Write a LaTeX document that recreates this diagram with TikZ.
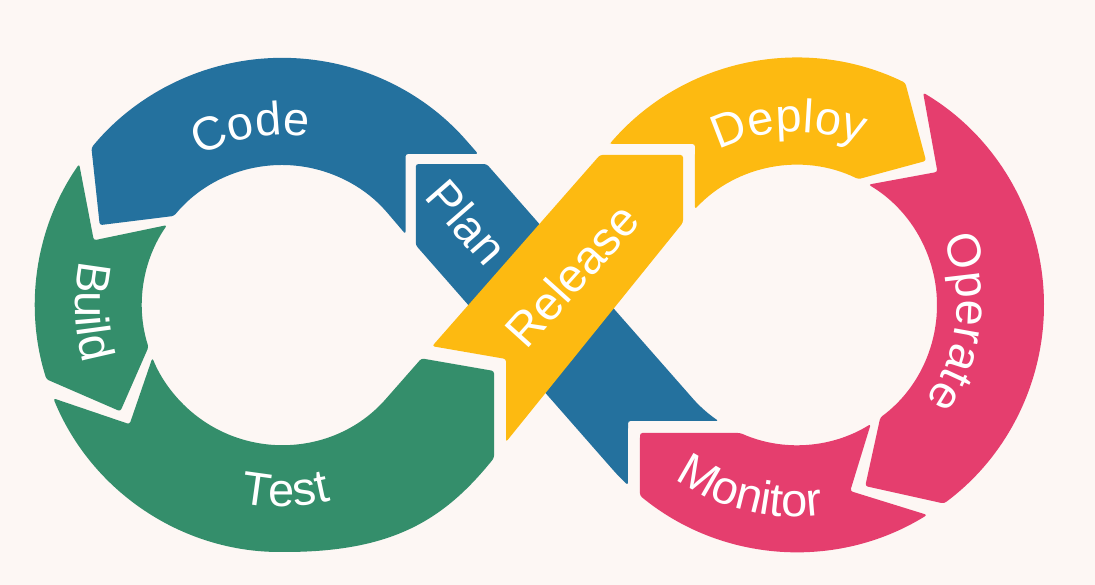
\documentclass[tikz,border=0pt]{standalone}
\usepackage{fontspec}
\setmainfont{Liberation Sans}
\usepackage{tikz}
\usetikzlibrary{calc, decorations.text}
\definecolor{bgcol}{RGB}{253,247,244}
\definecolor{devblue}{RGB}{36,113,158}
\definecolor{devgreen}{RGB}{52,142,107}
\definecolor{devyellow}{RGB}{253,186,17}
\definecolor{devpink}{RGB}{229,62,110}
\newcommand{\lblfont}{\fontsize{47}{47}\selectfont}

\begin{document}
\begin{tikzpicture}[x=1pt, y=1pt, rounded corners=2.5pt,
		lbl/.style = {text=white, font=\lblfont, inner sep=0pt},
		onarc/.style = {decorate, decoration={text along path, text align=center,
			text color=white, text={|\lblfont|#1}}}]
	\useasboundingbox (0,0) rectangle (1095,585);
	\fill[bgcol, sharp corners] (0,0) rectangle (1095,585);
	\coordinate (CL) at (282,280);
	\coordinate (CR) at (797,280);
	% blue
	\fill[devblue] (628,164) -- (718.6,164) arc[start angle=235.95, end angle=221.28, radius=140pt]
		-- (486.7,420.9) -- (415.8,420.9) -- (415.8,339.8) -- (611.4,116.9)
		arc[start angle=221.28, end angle=226.8, radius=247pt] -- cycle;
	\fill[devblue] (478.2,431) -- (467.6,443.1) arc[start angle=41.28, end angle=140.5, radius=247pt]
		-- ($(CL)+(156.34:199pt)$) -- ($(CL)+(140.5:140pt)$)
		arc[start angle=140.5, end angle=41.28, radius=140pt] -- (405.5,350.9) -- (405.5,431) -- cycle;
	% green
	\fill[devgreen] ($(CL)+(145.2:247pt)$) arc[start angle=145.2, end angle=197.5, radius=247pt]
		-- ($(CL)+(213.34:193.5pt)$) -- ($(CL)+(197.5:140pt)$)
		arc[start angle=197.5, end angle=145.2, radius=140pt] -- ($(CL)+(161.04:199pt)$) -- cycle;
	\fill[devgreen] ($(CL)+(202.2:247pt)$) arc[start angle=202.2, end angle=270, radius=247pt]
		.. controls (392,33) and (443.6,64.6) .. (494,127) -- (494,214) -- (421.5,226.6) -- (387.2,187.6)
		arc[start angle=318.72, end angle=202.2, radius=140pt] -- ($(CL)+(218.04:193.5pt)$) -- cycle;
	% yellow
	\fill[devyellow] (506,226) -- (432.2,238.8) -- (600,430) -- (683,430) -- (683,362.4) -- (506,143) -- cycle;
	\fill[devyellow] (695,441) -- (609.7,441) -- (611.4,443.1) arc[start angle=138.72, end angle=64, radius=247pt]
		-- ($(CR)+(48.16:193.5pt)$) -- ($(CR)+(64:140pt)$)
		arc[start angle=64, end angle=136.8, radius=140pt] -- cycle;
	% pink
	\fill[devpink] ($(CR)+(59.3:247pt)$) arc[start angle=59.3, end angle=-53.5, radius=247pt]
		-- ($(CR)+(-69.34:193.5pt)$) -- ($(CR)+(-53.5:140pt)$)
		arc[start angle=-53.5, end angle=59.3, radius=140pt] -- ($(CR)+(43.46:193.5pt)$) -- cycle;
	\fill[devpink] ($(CR)+(-58.2:247pt)$) arc[start angle=-58.2, end angle=-129.5, radius=247pt]
		-- (640,152) -- (740.3,152) arc[start angle=-113.9, end angle=-58.2, radius=140pt]
		-- ($(CR)+(-74.04:193.5pt)$) -- cycle;
	% labels
	\path[onarc=Code] ($(CL)+(130:170pt)$) arc[start angle=130, end angle=70, radius=170pt];
	\path[onarc=Build] ($(CL)+(150:207pt)$) arc[start angle=150, end angle=214, radius=207pt];
	\path[onarc=Test] ($(CL)+(240:202pt)$) arc[start angle=240, end angle=302, radius=202pt];
	\path[onarc=Deploy] ($(CR)+(125:173pt)$) arc[start angle=125, end angle=60, radius=173pt];
	\path[onarc=Operate] ($(CR)+(40:160pt)$) arc[start angle=40, end angle=-52, radius=160pt];
	\path[onarc=Monitor] ($(CR)+(222:212pt)$) arc[start angle=222, end angle=290, radius=212pt];
	\node[lbl, rotate=-49] (plan) at (467,363) {Plan};
	\node[lbl, rotate=48] (release) at (572,310) {Release};
\end{tikzpicture}
\end{document}
